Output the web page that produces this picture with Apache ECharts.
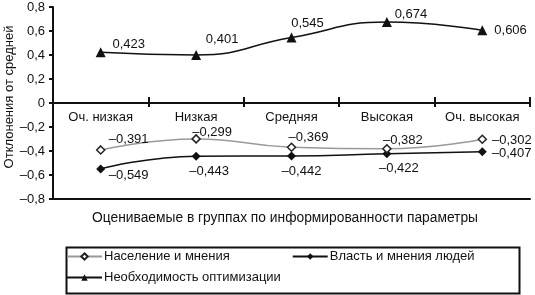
<!DOCTYPE html>
<html>
<head>
<meta charset="utf-8">
<script src="https://cdn.jsdelivr.net/npm/echarts@6/dist/echarts.min.js"></script>
<style>
  html, body { margin: 0; padding: 0; background: #fff; }
  #main { width: 535px; height: 295px; }
</style>
</head>
<body>
<div id="main"></div>
<script>
// данные графика
var categories = ['Оч. низкая', 'Низкая', 'Средняя', 'Высокая', 'Оч. высокая'];
var seriesNames = ['Население и мнения', 'Власть и мнения людей', 'Необходимость оптимизации'];
var naselenie = [-0.391, -0.299, -0.369, -0.382, -0.302];
var vlast = [-0.549, -0.443, -0.442, -0.422, -0.407];
var neobhod = [0.423, 0.401, 0.545, 0.674, 0.606];
var yTicks = [-0.8, 0.8, 0.2]; // min, max, шаг

var FONT = '"Liberation Sans", Arial, sans-serif';

function fmt(v) { // 0.423 -> 0,423 ; -0.2 -> –0,2
    var s = String(Math.round(v * 1000) / 1000).replace('.', ',');
    return s.replace('-', '–');
}

// подписи точек: позиция для каждой точки
function pointData(values, positions) {
    return values.map(function (v, i) {
        var p = positions[i];
        return { value: v, label: { position: p[0], offset: p[1] } };
    });
}

var labelStyle = {
    show: true,
    formatter: function (p) { return fmt(p.value); },
    color: '#111', fontSize: 13, fontFamily: FONT
};
var legendText = { color: '#111', fontSize: 13, fontFamily: FONT, padding: [0, 0, 0, -3] };
var axisColor = '#111';

var myChart = echarts.init(document.getElementById('main'));
var option = {
    animation: false,
    textStyle: { fontFamily: FONT },
    grid: [
        { left: 53, right: 5, top: 7, bottom: 96, outerBoundsMode: 'none' },
        // нижняя половина: её верх совпадает с нулём, там подписи категорий
        { left: 53, right: 5, top: 103, bottom: 96, outerBoundsMode: 'none' },
        // узкая полоска вокруг нуля — засечки оси категорий
        { left: 53, right: 5, top: 97, bottom: 188, outerBoundsMode: 'none' }
    ],
    xAxis: [
        {
            type: 'category', gridIndex: 0, data: categories, boundaryGap: true,
            axisLine: { show: false }, axisTick: { show: false }, axisLabel: { show: false }
        },
        {
            type: 'category', gridIndex: 1, data: categories, boundaryGap: true, position: 'top',
            axisLine: { show: true, lineStyle: { color: axisColor, width: 2 } },
            axisTick: { show: false },
            axisLabel: { inside: true, interval: 0, color: '#111', fontSize: 13, fontFamily: FONT, margin: 8 }
        },
        {
            type: 'category', gridIndex: 2, data: categories, boundaryGap: true,
            axisLine: { show: false }, axisTick: { show: false }, axisLabel: { show: false },
            splitLine: { show: true, interval: 0, lineStyle: { color: axisColor, width: 2 } }
        }
    ],
    yAxis: [
        {
            type: 'value',
            gridIndex: 0,
            min: yTicks[0],
            max: yTicks[1],
            interval: yTicks[2],
            splitLine: { show: false },
            axisLine: { show: true, lineStyle: { color: axisColor, width: 2 } },
            axisTick: { show: true, length: 4, lineStyle: { color: axisColor, width: 2 } },
            axisLabel: { color: '#111', fontSize: 13, fontFamily: FONT, formatter: fmt, margin: 8 }
        },
        { type: 'value', gridIndex: 1, show: false },
        { type: 'value', gridIndex: 2, show: false }
    ],
    legend: [
        {
            left: 66,
            top: 250,
            itemGap: 62,
            itemWidth: 35,
            itemHeight: 8,
            padding: 0,
            data: [seriesNames[0], seriesNames[1]],
            textStyle: legendText
        },
        {
            left: 66,
            top: 271,
            itemWidth: 35,
            itemHeight: 8,
            padding: 0,
            data: [seriesNames[2]],
            textStyle: legendText
        }
    ],
    graphic: [
        {
            type: 'text',
            x: 9,
            y: 97,
            rotation: Math.PI / 2,
            style: {
                text: 'Отклонения от средней',
                fill: '#111',
                font: '13px ' + FONT,
                textAlign: 'center',
                textVerticalAlign: 'middle'
            }
        },
        {
            type: 'text',
            left: 92,
            top: 211,
            style: {
                text: 'Оцениваемые в группах по информированности параметры',
                fill: '#111',
                font: '13.8px ' + FONT
            }
        },
        {
            type: 'rect',
            left: 64,
            top: 245,
            shape: { width: 453, height: 46 },
            style: { fill: 'none', stroke: '#111', lineWidth: 2 }
        }
    ],
    series: [
        {
            name: seriesNames[0],
            type: 'line',
            smooth: true,
            symbol: 'diamond',
            symbolSize: 8,
            itemStyle: { color: '#fff', borderColor: '#222', borderWidth: 1.5 },
            lineStyle: { color: '#9a9a9a', width: 1.5 },
            label: labelStyle,
            data: pointData(naselenie, [
                ['top', [28, 6]], ['top', [16, 10]], ['top', [17, 6]], ['top', [16, 8]], ['right', [0, 1]]
            ]),
            z: 3
        },
        {
            name: seriesNames[1],
            type: 'line',
            smooth: true,
            symbol: 'diamond',
            symbolSize: 9,
            itemStyle: { color: '#111' },
            lineStyle: { color: '#111', width: 1.5 },
            label: labelStyle,
            data: pointData(vlast, [
                ['bottom', [28, -9]], ['bottom', [13, -1]], ['bottom', [10, -1]], ['bottom', [12, -1]], ['right', [0, 2]]
            ]),
            z: 2
        },
        {
            name: seriesNames[2],
            type: 'line',
            smooth: true,
            symbol: 'triangle',
            symbolSize: 10,
            itemStyle: { color: '#111' },
            lineStyle: { color: '#111', width: 1.5 },
            label: labelStyle,
            // линия нуля
            markLine: {
                silent: true,
                symbol: 'none',
                label: { show: false },
                lineStyle: { color: axisColor, width: 2, type: 'solid' },
                data: [{ yAxis: 0 }]
            },
            data: pointData(neobhod, [
                ['top', [28, 9]], ['top', [26, 1]], ['top', [16, 2]], ['top', [24, 9]], ['right', [2, 0]]
            ])
        }
    ]
};
myChart.setOption(option);
</script>
</body>
</html>
